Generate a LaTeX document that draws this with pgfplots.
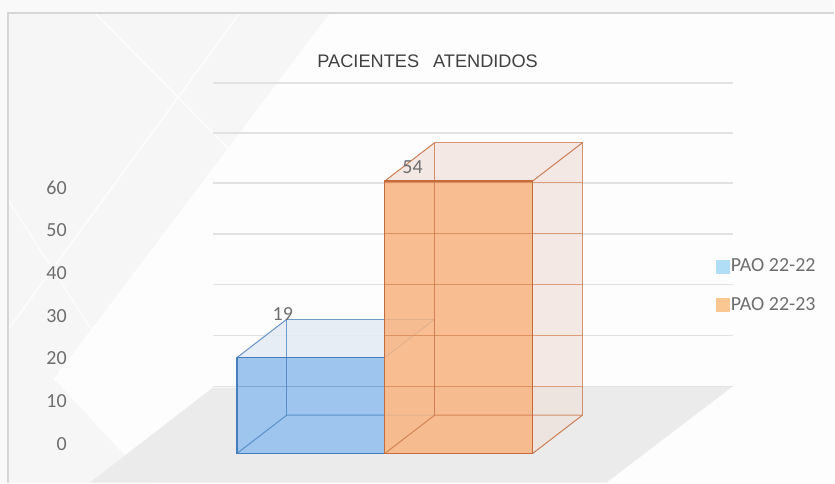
\documentclass[border=0pt]{standalone}
\usepackage{fontspec}
\setmainfont{Carlito}
\newfontfamily\arialf{Liberation Sans}
\usepackage{pgfplots}
\pgfplotsset{compat=1.18}
\definecolor{bluef}{RGB}{157,197,237}
\definecolor{bluee}{RGB}{70,125,188}
\definecolor{bluetop}{RGB}{226,234,243}
\definecolor{orf}{RGB}{248,180,128}
\definecolor{ore}{RGB}{196,108,60}
\definecolor{orside}{RGB}{240,226,220}
\definecolor{gridc}{RGB}{226,226,226}
\definecolor{floorc}{RGB}{235,235,235}
\definecolor{txt}{RGB}{110,110,110}
\definecolor{titlec}{RGB}{64,64,64}
\definecolor{legb}{RGB}{175,222,246}
\definecolor{lego}{RGB}{250,198,146}
\definecolor{bgout}{RGB}{249,249,249}
\definecolor{bgin}{RGB}{253,253,253}
\definecolor{bggray}{RGB}{246,246,246}
\definecolor{framec}{RGB}{214,214,214}
\newcommand{\bigf}{\fontsize{20bp}{24bp}\selectfont}
\begin{document}
\begin{tikzpicture}
% background in pixel coordinates
\begin{scope}[x=1bp,y=-1bp,shift={(0,483bp)}]
\fill[bgout] (0,0) rectangle (835,483);
\fill[bgin] (8,13) rectangle (835,483);
\fill[bggray] (8,13) -- (330,13) -- (8,440) -- cycle;
\fill[bggray] (8,330) -- (150,483) -- (8,483) -- cycle;
\draw[white, line width=1.5bp, opacity=0.8] (95,13) -- (230,150);
\draw[white, line width=1.5bp, opacity=0.8] (240,13) -- (8,330);
\draw[white, line width=1.2bp, opacity=0.8] (8,200) -- (190,483);
\draw[framec, line width=1.5bp] (8,483) -- (8,13) -- (835,13);
\fill[floorc] (213,388) -- (733,387) -- (607,483) -- (90,483) -- cycle;
\end{scope}

\begin{axis}[at={(0,0)}, anchor=south west, width=835bp, height=483bp, scale only axis,
  xmin=-1.6014, xmax=4.0405, ymin=-5.743, ymax=89.90,
  axis lines=none, xtick=\empty, ytick=\empty, clip=false,
  legend image code/.code={\fill[#1] (0bp,-6.5bp) rectangle (13bp,6.5bp);},
  legend style={at={(axis cs:3.2365,39.0)}, anchor=north west, draw=none, fill=none,
    font=\bigf, text=txt, inner sep=0pt, row sep=20bp,
    cells={anchor=west}, nodes={inner sep=2bp}},
  ]
% gridlines on the back wall
\pgfplotsinvokeforeach{13.27,23.37,33.47,43.56,53.66,63.56,73.47}{
  \addplot[gridc, line width=1.4bp, forget plot] coordinates {(-0.162,#1) (3.358,#1)};
}
% ---- blue bar (PAO 22-22 = 19)
\addplot[fill=bluetop, fill opacity=0.8, draw=none, forget plot] coordinates {(0,19) (1,19) (1.3378,26.62) (0.3378,26.62)} -- cycle;
\addplot[fill=bluef, draw=none, forget plot] coordinates {(0,0) (1,0) (1,19) (0,19)} -- cycle;
\addplot[gridc!40!bluee, line width=1.2bp, forget plot] coordinates {(0,13.27) (1,13.27)};
\addplot[bluee, line width=1bp, opacity=0.75, forget plot] coordinates {(0,0) (0.3378,7.62) (1.3378,7.62)};
\addplot[bluee, line width=1bp, opacity=0.75, forget plot] coordinates {(0.3378,7.62) (0.3378,26.62) (1.3378,26.62) (1.3378,7.62)};
\addplot[bluee, line width=1.4bp, forget plot] coordinates {(0,0) (1,0) (1,19) (0,19)} -- cycle;
\addplot[bluee, line width=1bp, opacity=0.8, forget plot] coordinates {(0,19) (0.3378,26.62)};
\addplot[bluee, line width=1bp, opacity=0.8, forget plot] coordinates {(1,19) (1.3378,26.62)};
% ---- orange bar (PAO 22-23 = 54)
\addplot[fill=orside, fill opacity=0.75, draw=none, forget plot] coordinates {(2,0) (2.3378,7.62) (2.3378,61.62) (2,54)} -- cycle;
\addplot[fill=orside, fill opacity=0.75, draw=none, forget plot] coordinates {(1,54) (2,54) (2.3378,61.62) (1.3378,61.62)} -- cycle;
\addplot[fill=orf, fill opacity=0.85, draw=none, forget plot] coordinates {(1,0) (2,0) (2,54) (1,54)} -- cycle;
\pgfplotsinvokeforeach{13.27,23.37,33.47,43.56,53.66}{
  \addplot[ore!70!orf, line width=1.3bp, opacity=0.7, forget plot] coordinates {(1,#1) (2.3378,#1)};
}
\addplot[ore, line width=1bp, opacity=0.7, forget plot] coordinates {(1,0) (1.3378,7.62) (2.3378,7.62)};
\addplot[ore, line width=1bp, opacity=0.7, forget plot] coordinates {(1.3378,7.62) (1.3378,61.62) (2.3378,61.62) (2.3378,7.62)};
\addplot[ore, line width=1.4bp, forget plot] coordinates {(1,0) (2,0) (2,54) (1,54)} -- cycle;
\addplot[ore, line width=1bp, opacity=0.85, forget plot] coordinates {(1,54) (1.3378,61.62)};
\addplot[ore, line width=1bp, opacity=0.85, forget plot] coordinates {(2,54) (2.3378,61.62)};
\addplot[ore, line width=1bp, opacity=0.85, forget plot] coordinates {(2,0) (2.3378,7.62)};
% data labels
\node[font=\bigf, text=txt] at (axis cs:0.311,27.6) {19};
\node[font=\bigf, text=txt] at (axis cs:1.189,56.7) {54};
% title
\node[font=\arialf\fontsize{18.2bp}{21bp}\selectfont, text=titlec] at (rel axis cs:0.5126,0.8737) {PACIENTES\hspace{14bp}ATENDIDOS};
% legend
\addlegendimage{legb}
\addlegendentry{PAO 22-22}
\addlegendimage{lego}
\addlegendentry{PAO 22-23}
\end{axis}

% value axis labels
\begin{axis}[at={(67bp,0)}, anchor=south west, width=20bp, height=483bp, scale only axis,
  xmin=0, xmax=1, ymin=-9.14, ymax=104.06,
  axis line style={draw=none}, xtick=\empty, ytick={0,10,...,60},
  tick style={draw=none},
  yticklabel style={inner sep=0pt, anchor=east, text=txt, font=\bigf},
  /pgf/number format/assume math mode=true]
\end{axis}
\end{tikzpicture}
\end{document}
